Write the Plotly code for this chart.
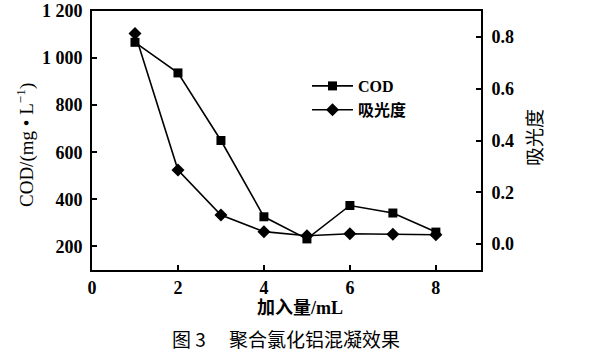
import plotly.graph_objects as go

dose = [1, 2, 3, 4, 5, 6, 7, 8]
cod = [1067, 937, 650, 326, 232, 374, 342, 261]
absorb = [0.813, 0.286, 0.112, 0.048, 0.032, 0.040, 0.038, 0.036]

cod_ticks = [200, 400, 600, 800, 1000, 1200]
cod_ticktext = ["200", "400", "600", "800", "1 000", "1 200"]
abs_ticks = [0.0, 0.2, 0.4, 0.6, 0.8]
abs_ticktext = ["0.0", "0.2", "0.4", "0.6", "0.8"]
x_ticks = [0, 2, 4, 6, 8]

serif = "Liberation Serif"
cjk = "Liberation Serif, Noto Sans CJK SC"
num_font = dict(family=serif, size=18, color="black", weight="bold")

L, R, T, B = 92, 116, 11, 82
W, H = 597, 352
pw, ph = W - L - R, H - T - B


def px(x):
    return (x - L) / pw


def py(y):
    return (H - B - y) / ph


fig = go.Figure()
fig.add_trace(go.Scatter(
    x=dose, y=cod, name="COD", mode="lines+markers",
    line=dict(color="black", width=1.6),
    marker=dict(symbol="square", size=9, color="black"),
    yaxis="y"))
fig.add_trace(go.Scatter(
    x=dose, y=absorb, name="吸光度", mode="lines+markers",
    line=dict(color="black", width=1.6),
    marker=dict(symbol="diamond", size=10, color="black"),
    yaxis="y2"))

fig.update_layout(
    width=W, height=H,
    margin=dict(l=L, r=R, t=T, b=B, autoexpand=False),
    plot_bgcolor="white", paper_bgcolor="white",
    font=dict(family=serif),
    showlegend=True,
    legend=dict(x=px(307), y=py(69), xanchor="left", yanchor="top",
                bgcolor="rgba(0,0,0,0)",
                font=dict(family=cjk, size=16, color="black", weight="bold"),
                tracegroupgap=0, itemwidth=41),
    xaxis=dict(range=[0, 9.05], tickvals=x_ticks, ticks="inside", ticklen=5,
               tickwidth=1.5, tickcolor="black", showline=True, linecolor="black",
               linewidth=2, mirror=True, showgrid=False, zeroline=False,
               tickfont=num_font, automargin=False),
    yaxis=dict(range=[100, 1200], tickvals=cod_ticks, ticktext=cod_ticktext,
               ticks="inside", ticklen=5, tickwidth=1.5, tickcolor="black",
               showline=True, linecolor="black", linewidth=2, mirror=True,
               showgrid=False, zeroline=False, tickfont=num_font, automargin=False,
               ticklabelstandoff=4),
    yaxis2=dict(range=[-0.1, 0.9], tickvals=abs_ticks, ticktext=abs_ticktext,
                overlaying="y", side="right", ticks="inside", ticklen=5,
                tickwidth=1.5, tickcolor="black", showline=True, linecolor="black",
                linewidth=2, showgrid=False, zeroline=False, tickfont=num_font,
                automargin=False, ticklabelstandoff=5),
)

fig.add_annotation(text="COD/(mg • L<sup>−1</sup>)", xref="paper", yref="paper",
                   x=px(25), y=py(145), xanchor="center", yanchor="middle",
                   textangle=-90, showarrow=False,
                   font=dict(family=serif, size=19, color="black"))
fig.add_annotation(text="吸光度", xref="paper", yref="paper",
                   x=px(533), y=py(138), xanchor="center", yanchor="middle",
                   textangle=-90, showarrow=False,
                   font=dict(family="Noto Sans CJK SC", size=19, color="black"))
fig.add_annotation(text="加入量/mL", xref="paper", yref="paper",
                   x=px(300), y=py(308), xanchor="center",
                   yanchor="middle", showarrow=False,
                   font=dict(family=cjk, size=18, color="black", weight="bold"))
fig.add_annotation(text="图 3　 聚合氯化铝混凝效果", xref="paper", yref="paper",
                   x=px(286), y=py(338), xanchor="center",
                   yanchor="middle", showarrow=False,
                   font=dict(family="Noto Sans CJK SC", size=19, color="black"))

fig.write_html("out.html")
